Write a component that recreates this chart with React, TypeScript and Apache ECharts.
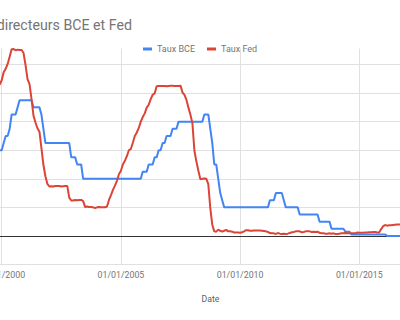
import React, { useEffect, useRef } from "react";
import * as echarts from "echarts";

// Monthly series, first value = January 1999
const START_YEAR = 1999;

const tauxBCE = [
  // 1999
  3.0, 3.0, 3.0, 2.5, 2.5, 2.5, 2.5, 2.5, 2.5, 2.5, 3.0, 3.0,
  // 2000
  3.0, 3.25, 3.5, 3.5, 3.75, 4.25, 4.25, 4.25, 4.5, 4.75, 4.75, 4.75,
  // 2001
  4.75, 4.75, 4.75, 4.75, 4.5, 4.5, 4.5, 4.5, 4.25, 3.75, 3.25, 3.25,
  // 2002
  3.25, 3.25, 3.25, 3.25, 3.25, 3.25, 3.25, 3.25, 3.25, 3.25, 3.25, 2.75,
  // 2003
  2.75, 2.75, 2.5, 2.5, 2.5, 2.0, 2.0, 2.0, 2.0, 2.0, 2.0, 2.0,
  // 2004
  2.0, 2.0, 2.0, 2.0, 2.0, 2.0, 2.0, 2.0, 2.0, 2.0, 2.0, 2.0,
  // 2005
  2.0, 2.0, 2.0, 2.0, 2.0, 2.0, 2.0, 2.0, 2.0, 2.0, 2.0, 2.25,
  // 2006
  2.25, 2.25, 2.5, 2.5, 2.5, 2.75, 2.75, 3.0, 3.0, 3.25, 3.25, 3.5,
  // 2007
  3.5, 3.5, 3.75, 3.75, 3.75, 4.0, 4.0, 4.0, 4.0, 4.0, 4.0, 4.0,
  // 2008
  4.0, 4.0, 4.0, 4.0, 4.0, 4.0, 4.25, 4.25, 4.25, 3.75, 3.25, 2.5,
  // 2009
  2.5, 2.0, 1.5, 1.25, 1.0, 1.0, 1.0, 1.0, 1.0, 1.0, 1.0, 1.0,
  // 2010
  1.0, 1.0, 1.0, 1.0, 1.0, 1.0, 1.0, 1.0, 1.0, 1.0, 1.0, 1.0,
  // 2011
  1.0, 1.0, 1.0, 1.25, 1.25, 1.25, 1.5, 1.5, 1.5, 1.5, 1.25, 1.0,
  // 2012
  1.0, 1.0, 1.0, 1.0, 1.0, 1.0, 0.75, 0.75, 0.75, 0.75, 0.75, 0.75,
  // 2013
  0.75, 0.75, 0.75, 0.75, 0.5, 0.5, 0.5, 0.5, 0.5, 0.5, 0.25, 0.25,
  // 2014
  0.25, 0.25, 0.25, 0.25, 0.25, 0.15, 0.15, 0.15, 0.05, 0.05, 0.05, 0.05,
  // 2015
  0.05, 0.05, 0.05, 0.05, 0.05, 0.05, 0.05, 0.05, 0.05, 0.05, 0.05, 0.05,
  // 2016
  0.05, 0.05, 0.0, 0.0, 0.0, 0.0, 0.0, 0.0, 0.0, 0.0, 0.0, 0.0,
];

const tauxFed = [
  // 1999
  4.63, 4.76, 4.81, 4.74, 4.74, 4.76, 4.99, 5.07, 5.22, 5.2, 5.42, 5.3,
  // 2000
  5.45, 5.73, 5.85, 6.02, 6.27, 6.53, 6.54, 6.5, 6.52, 6.51, 6.51, 6.4,
  // 2001
  5.98, 5.49, 5.31, 4.8, 4.21, 3.97, 3.77, 3.65, 3.07, 2.49, 2.09, 1.82,
  // 2002
  1.73, 1.74, 1.73, 1.75, 1.75, 1.75, 1.73, 1.74, 1.75, 1.75, 1.34, 1.24,
  // 2003
  1.24, 1.26, 1.25, 1.26, 1.26, 1.22, 1.01, 1.03, 1.01, 1.01, 1.0, 0.98,
  // 2004
  1.0, 1.01, 1.0, 1.0, 1.0, 1.03, 1.26, 1.43, 1.61, 1.76, 1.93, 2.16,
  // 2005
  2.28, 2.5, 2.63, 2.79, 3.0, 3.04, 3.26, 3.5, 3.62, 3.78, 4.0, 4.16,
  // 2006
  4.29, 4.49, 4.59, 4.79, 4.94, 4.99, 5.24, 5.25, 5.25, 5.25, 5.25, 5.24,
  // 2007
  5.25, 5.26, 5.26, 5.25, 5.25, 5.25, 5.26, 5.02, 4.94, 4.76, 4.49, 4.24,
  // 2008
  3.94, 2.98, 2.61, 2.28, 1.98, 2.0, 2.01, 2.0, 1.81, 0.97, 0.39, 0.16,
  // 2009
  0.15, 0.22, 0.18, 0.15, 0.18, 0.21, 0.16, 0.16, 0.15, 0.12, 0.12, 0.12,
  // 2010
  0.11, 0.13, 0.16, 0.2, 0.2, 0.18, 0.18, 0.19, 0.19, 0.19, 0.19, 0.18,
  // 2011
  0.17, 0.16, 0.14, 0.1, 0.09, 0.09, 0.07, 0.1, 0.08, 0.07, 0.08, 0.07,
  // 2012
  0.08, 0.1, 0.13, 0.14, 0.16, 0.16, 0.16, 0.13, 0.14, 0.16, 0.16, 0.16,
  // 2013
  0.14, 0.15, 0.14, 0.15, 0.11, 0.09, 0.09, 0.08, 0.08, 0.09, 0.08, 0.09,
  // 2014
  0.07, 0.07, 0.08, 0.09, 0.09, 0.1, 0.09, 0.09, 0.09, 0.09, 0.09, 0.12,
  // 2015
  0.11, 0.11, 0.11, 0.12, 0.12, 0.13, 0.13, 0.14, 0.14, 0.12, 0.12, 0.24,
  // 2016
  0.34, 0.38, 0.36, 0.37, 0.37, 0.38, 0.39, 0.4, 0.4, 0.4, 0.41, 0.54,
];

const seriesNames = ["Taux BCE", "Taux Fed"];
const TITLE = "Taux directeurs BCE et Fed";
const X_TITLE = "Date";
const X_MIN = 1995;
const X_MAX = 2020;
const X_STEP = 5;
const Y_MIN = -1;
const Y_MAX = 6.56;

const toPoints = (vals: number[]) =>
  vals.map((v, i) => [START_YEAR + i / 12, v]);

const FONT = "Roboto, 'Noto Sans', sans-serif";
const GRAY = "#757575";
const OFFSET = 150;

export default function App() {
  const ref = useRef<HTMLDivElement>(null);

  useEffect(() => {
    if (!ref.current) return;
    const chart = echarts.init(ref.current, undefined, { renderer: "svg" });
    chart.setOption({
      animation: false,
      backgroundColor: "#ffffff",
      textStyle: { fontFamily: FONT },
      grid: { left: 32.5, right: 71.5, top: 48.5, bottom: 55.5, containLabel: false },
      legend: {
        data: seriesNames,
        left: 143 + OFFSET,
        top: 44.5,
        icon: "rect",
        itemWidth: 9,
        itemHeight: 3,
        itemGap: 12,
        padding: 0,
        textStyle: { fontSize: 9, color: GRAY, fontFamily: FONT },
      },
      graphic: [
        {
          type: "text",
          x: 132 + OFFSET,
          y: 25,
          style: {
            text: TITLE,
            align: "right",
            verticalAlign: "middle",
            fontSize: 14.2,
            fontFamily: FONT,
            fill: GRAY,
          },
        },
        {
          type: "text",
          x: 210.5 + OFFSET,
          y: 299,
          style: {
            text: X_TITLE,
            align: "center",
            verticalAlign: "middle",
            fontSize: 8.7,
            fontFamily: FONT,
            fill: "#616161",
          },
        },
      ],
      xAxis: {
        type: "value",
        min: X_MIN,
        max: X_MAX,
        interval: X_STEP,
        axisLine: { show: false },
        axisTick: { show: false },
        axisLabel: {
          fontSize: 8.8,
          color: GRAY,
          fontFamily: FONT,
          margin: 6,
          formatter: (v: number) => `01/01/${v}`,
        },
        splitLine: { show: true, lineStyle: { color: "#e0e0e0", width: 1 } },
      },
      yAxis: {
        type: "value",
        min: Y_MIN,
        max: Y_MAX,
        interval: 1,
        axisLine: { show: false },
        axisTick: { show: false },
        axisLabel: { show: false },
        splitLine: {
          show: true,
          showMaxLine: false,
          lineStyle: { color: "#e0e0e0", width: 1 },
        },
      },
      series: [
        {
          name: seriesNames[0],
          type: "line",
          data: toPoints(tauxBCE),
          showSymbol: false,
          color: "#4285F4",
          lineStyle: { width: 2, color: "#4285F4" },
          z: 3,
          markLine: {
            silent: true,
            symbol: "none",
            label: { show: false },
            lineStyle: { color: "#333333", width: 1, type: "solid" },
            data: [{ yAxis: 0 }],
            z: 1,
          },
        },
        {
          name: seriesNames[1],
          type: "line",
          data: toPoints(tauxFed),
          showSymbol: false,
          color: "#DB4437",
          lineStyle: { width: 2, color: "#DB4437" },
          z: 4,
        },
      ],
    });
    return () => chart.dispose();
  }, []);

  return (
    <div
      style={{
        position: "fixed",
        left: 0,
        top: 0,
        width: 400,
        height: 320,
        overflow: "hidden",
        background: "#fff",
      }}
    >
      <div
        ref={ref}
        style={{ position: "absolute", left: -OFFSET, top: 0, width: 700, height: 320 }}
      />
    </div>
  );
}
